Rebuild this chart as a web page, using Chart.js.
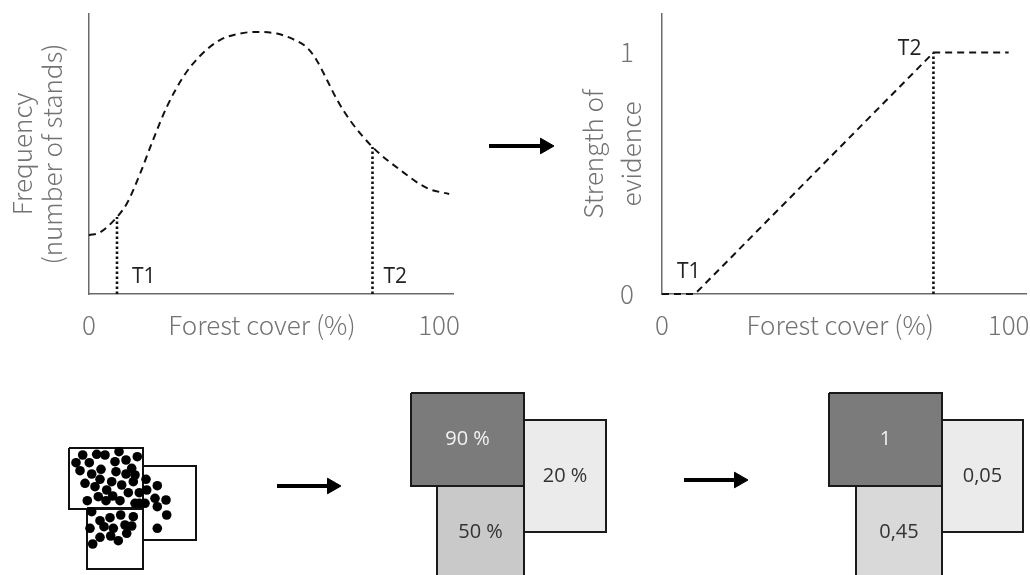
<!DOCTYPE html>
<html>
<head>
<meta charset="utf-8">
<title>Forest cover thresholds</title>
<script src="https://cdn.jsdelivr.net/npm/chart.js@4.4.0/dist/chart.umd.min.js"></script>
<style>
  html, body { margin: 0; padding: 0; background: #fff; }
  body { width: 1030px; height: 575px; position: relative; overflow: hidden; }
  canvas { position: absolute; top: 0; }
  #diagram { left: 0; z-index: 0; }
  #freqChart { left: 0; z-index: 1; }
  #evidenceChart { left: 540px; z-index: 1; }
</style>
</head>
<body>
<canvas id="diagram" width="1030" height="575"></canvas>
<canvas id="freqChart" width="500" height="340"></canvas>
<canvas id="evidenceChart" width="490" height="340"></canvas>
<script>
// top left: frequency of stands along forest cover
const coverX = [0, 3.1, 8, 10.9, 14.6, 18.3, 22.3, 26.9, 31.7, 37.4, 43, 48, 53.7, 58.3, 62.3, 65, 68, 70.9, 74.6, 81, 88.9, 96.6, 102.9];
const frequency = [21, 22, 27.5, 32.5, 43, 55, 67, 77.5, 85, 90.7, 93, 93.6, 93, 91, 88, 83.6, 76.4, 69.3, 62, 52.5, 44.3, 37.8, 35.7];
const freqT1 = 8;
const freqT2 = 81;

// top right: strength of evidence
const evidenceX = [0, 9.5, 78.3, 100];
const evidence = [0, 0, 1, 1];
const evT1 = 9.5;
const evT2 = 78.3;

const xTickValues = [0, 49.4, 100];
const xTickValuesRight = [0, 51.4, 100];
const xTickLabels = ['0', 'Forest cover (%)', '100'];
const yTickValuesRight = [0, 1];

// bottom: sample plots with points
const plotX0 = [6.9, 14.3, 8.7];
const plotX1 = [14.3, 19.6, 14.3];
const plotY0 = [44.8, 46.6, 50.8];
const plotY1 = [50.9, 54.0, 56.9];

const dotX = [8.27, 9.67, 10.5, 11.9, 13.73, 7.6, 8.93, 11.5, 12.6, 8.0, 10.1, 11.6, 13.17, 9.17, 12.6, 13.5,
  8.5, 10.0, 11.17, 12.17, 13.33, 14.6, 9.5, 10.67, 15.73, 14.67, 13.93, 12.83, 9.83, 11.27, 10.6, 8.73,
  12.0, 13.5, 14.5, 15.5, 16.6, 15.73, 16.67, 9.17, 10.0, 11.0, 12.07, 13.33, 9.0, 11.33, 12.5, 13.17,
  10.4, 12.67, 10.0, 11.07, 9.27, 11.83, 15.73, 13.93];
const dotY = [45.5, 45.43, 45.5, 45.17, 45.67, 46.27, 46.27, 46.17, 46.0, 47.07, 46.93, 47.17, 46.83, 47.4, 47.4, 47.5,
  48.33, 47.93, 48.17, 48.5, 48.17, 47.93, 48.67, 49.0, 48.57, 49.0, 49.27, 49.27, 49.67, 49.6, 50.07, 50.07,
  50.07, 50.33, 50.33, 49.83, 50.0, 50.67, 51.5, 51.17, 52.07, 51.77, 51.5, 51.67, 52.83, 52.83, 52.5, 52.6,
  52.67, 53.33, 53.73, 53.6, 54.4, 54.07, 52.83, 50.33];

// bottom: classified cells
const cellLabels = ['90 %', '20 %', '50 %', '1', '0,05', '0,45'];
const cellX0 = [41.1, 52.4, 43.7, 82.9, 94.2, 85.6];
const cellX1 = [52.4, 60.6, 52.4, 94.2, 102.3, 94.2];
const cellY0 = [39.3, 42.0, 48.6, 39.3, 42.0, 48.6];
const cellY1 = [48.6, 53.2, 57.8, 48.6, 53.2, 57.8];
const cellFill = ['#7b7b7b', '#ebebeb', '#c9c9c9', '#7b7b7b', '#ebebeb', '#d9d9d9'];
const cellText = ['#f2f2f2', '#333', '#333', '#f2f2f2', '#333', '#333'];

// arrows (start x, end x, y)
const arrowX0 = [48.9, 27.7, 68.4];
const arrowX1 = [54.5, 33.2, 73.9];
const arrowY = [14.6, 48.6, 48.0];

const gray = '#737373';
const axisGray = '#6a6a6a';
const grayFont = { family: '"Noto Sans CJK JP", "Noto Sans", sans-serif', size: 26, weight: 300 };
const markFont = '500 21px "Open Sans", "Noto Sans", sans-serif';
const cellFont = '500 20px "Open Sans", "Noto Sans", sans-serif';

// text placed at data coordinates
const notesPlugin = {
  id: 'notes',
  afterDatasetsDraw(chart, args, opts) {
    const { ctx } = chart;
    const x = chart.scales.x, y = chart.scales.y;
    ctx.save();
    ctx.textBaseline = 'middle';
    (opts.items || []).forEach(it => {
      ctx.font = it.font;
      ctx.fillStyle = it.color;
      ctx.textAlign = it.align || 'center';
      ctx.fillText(it.text, x.getPixelForValue(it.x) + (it.dx || 0), y.getPixelForValue(it.y) + (it.dy || 0));
    });
    ctx.restore();
  }
};

function xy(xs, ys) {
  return xs.map((v, i) => ({ x: v, y: ys[i] }));
}

function boxPoints(x0, x1, y0, y1) {
  return [{ x: x0, y: y0 }, { x: x1, y: y0 }, { x: x1, y: y1 }, { x: x0, y: y1 }, { x: x0, y: y0 }];
}

// keep the axis boxes at fixed sizes, no label overflow padding
function fixWidth(w) {
  return s => { s.width = w; s.paddingTop = 0; s.paddingBottom = 0; };
}
function fixHeight(h) {
  return s => { s.height = h; s.paddingLeft = 0; s.paddingRight = 0; };
}

const dashed = { showLine: true, borderColor: '#111', borderWidth: 2, borderDash: [7, 5], pointRadius: 0, clip: false };
const dotted = { showLine: true, borderColor: '#111', borderWidth: 2.6, borderDash: [2.5, 2.5], pointRadius: 0, clip: false };

const freqT1y = frequency[coverX.indexOf(freqT1)];
const freqT2y = frequency[coverX.indexOf(freqT2)];

new Chart(document.getElementById('freqChart'), {
  type: 'scatter',
  data: {
    datasets: [
      Object.assign({ data: xy(coverX, frequency), cubicInterpolationMode: 'monotone' }, dashed),
      Object.assign({ data: [{ x: freqT1, y: 0 }, { x: freqT1, y: freqT1y }] }, dotted),
      Object.assign({ data: [{ x: freqT2, y: 0 }, { x: freqT2, y: freqT2y }] }, dotted)
    ]
  },
  options: {
    responsive: false,
    animation: false,
    devicePixelRatio: 1,
    layout: { autoPadding: false, padding: { top: 14, right: 47 } },
    plugins: {
      legend: { display: false },
      tooltip: { enabled: false },
      notes: {
        items: [
          { text: 'T1', x: freqT1, y: 0, dx: 15, dy: -17, align: 'left', font: markFont, color: '#222' },
          { text: 'T2', x: freqT2, y: 0, dx: 11, dy: -17, align: 'left', font: markFont, color: '#222' }
        ]
      }
    },
    scales: {
      x: {
        type: 'linear', min: 0, max: 104,
        grid: { display: false },
        border: { color: axisGray, width: 1.5 },
        afterFit: fixHeight(46),
        afterBuildTicks: s => { s.ticks = xTickValues.map(v => ({ value: v })); },
        ticks: { autoSkip: false, maxRotation: 0, padding: 8, color: gray, font: grayFont,
          callback: (v, i) => xTickLabels[i] }
      },
      y: {
        min: 0, max: 100,
        grid: { display: false },
        border: { color: axisGray, width: 1.5 },
        ticks: { display: false },
        afterFit: fixWidth(89),
        title: { display: true, text: ['Frequency', '(number of stands)'], color: gray,
          font: Object.assign({}, grayFont, { lineHeight: 1.15 }), padding: { top: 7, bottom: 0 } }
      }
    }
  },
  plugins: [notesPlugin]
});

new Chart(document.getElementById('evidenceChart'), {
  type: 'scatter',
  data: {
    datasets: [
      Object.assign({ data: xy(evidenceX, evidence) }, dashed),
      Object.assign({ data: [{ x: evT2, y: 0 }, { x: evT2, y: 1 }] }, dotted)
    ]
  },
  options: {
    responsive: false,
    animation: false,
    devicePixelRatio: 1,
    layout: { autoPadding: false, padding: { top: 14, right: 4 } },
    plugins: {
      legend: { display: false },
      tooltip: { enabled: false },
      notes: {
        items: [
          { text: 'T1', x: evT1, y: 0, dx: -18, dy: -22, align: 'left', font: markFont, color: '#222' },
          { text: 'T2', x: evT2, y: 1, dx: -12, dy: -4, align: 'right', font: markFont, color: '#222' }
        ]
      }
    },
    scales: {
      x: {
        type: 'linear', min: 0, max: 105,
        grid: { display: false },
        border: { color: axisGray, width: 1.5 },
        afterFit: fixHeight(46),
        afterBuildTicks: s => { s.ticks = xTickValuesRight.map(v => ({ value: v })); },
        ticks: { autoSkip: false, maxRotation: 0, padding: 8, color: gray, font: grayFont,
          callback: (v, i) => xTickLabels[i] }
      },
      y: {
        min: 0, max: 1.16,
        grid: { display: false },
        border: { color: axisGray, width: 1.5 },
        afterFit: fixWidth(122),
        afterBuildTicks: s => { s.ticks = yTickValuesRight.map(v => ({ value: v })); },
        ticks: { padding: 20, color: gray, font: grayFont, callback: v => String(v) },
        title: { display: true, text: ['Strength of', 'evidence'], color: gray,
          font: Object.assign({}, grayFont, { lineHeight: 1.46 }), padding: { top: 34, bottom: 0 } }
      }
    }
  },
  plugins: [notesPlugin]
});

// bottom diagram + arrows
const diagramSets = [];
diagramSets.push({ data: xy(dotX, dotY), pointRadius: 4.8, pointBackgroundColor: '#000', pointBorderWidth: 0, order: 0 });
plotX0.forEach((v, i) => {
  diagramSets.push({ data: boxPoints(v, plotX1[i], plotY0[i], plotY1[i]), showLine: true, fill: false,
    borderColor: '#111', borderWidth: 2, pointRadius: 0, order: 1 });
});
cellLabels.forEach((lab, i) => {
  diagramSets.push({ data: boxPoints(cellX0[i], cellX1[i], cellY0[i], cellY1[i]), showLine: true, fill: 'shape',
    backgroundColor: cellFill[i], borderColor: '#1a1a1a', borderWidth: 2, pointRadius: 0,
    order: cellY0[i] === 39.3 ? 2 : 3 });
});
arrowX0.forEach((v, i) => {
  diagramSets.push({ data: [{ x: v, y: arrowY[i] }, { x: arrowX1[i], y: arrowY[i] }], showLine: true,
    borderColor: '#000', borderWidth: 4, pointRadius: [0, 9], pointStyle: 'triangle', pointRotation: 90,
    pointBackgroundColor: '#000', pointBorderColor: '#000', pointBorderWidth: 1, order: 0 });
});

new Chart(document.getElementById('diagram'), {
  type: 'scatter',
  data: { datasets: diagramSets },
  options: {
    responsive: false,
    animation: false,
    devicePixelRatio: 1,
    layout: { autoPadding: false, padding: 0 },
    plugins: {
      legend: { display: false },
      tooltip: { enabled: false },
      notes: {
        items: cellLabels.map((t, i) => ({
          text: t, x: (cellX0[i] + cellX1[i]) / 2, y: (cellY0[i] + cellY1[i]) / 2,
          font: cellFont, color: cellText[i]
        }))
      }
    },
    scales: {
      x: { type: 'linear', min: 0, max: 103, display: false },
      y: { min: 0, max: 57.5, reverse: true, display: false }
    }
  },
  plugins: [notesPlugin]
});
</script>
</body>
</html>
